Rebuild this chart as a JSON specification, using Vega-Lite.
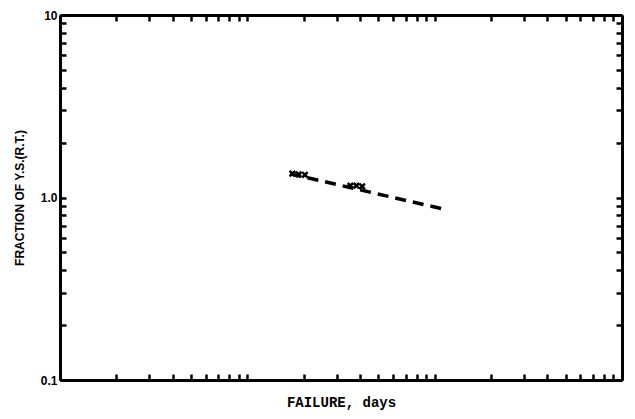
{
  "$schema": "https://vega.github.io/schema/vega-lite/v6.json",
  "autosize": {"type": "none"},
  "padding": {"left": 60, "top": 15, "right": 13, "bottom": 39},
  "width": 562,
  "height": 365,
  "background": "white",
  "config": {
    "view": {"stroke": null},
    "axis": {
      "domainColor": "black",
      "domainWidth": 3,
      "tickColor": "black",
      "tickWidth": 2.5,
      "tickOpacity": 1,
      "grid": false,
      "labelOverlap": false,
      "labelColor": "black",
      "titleColor": "black"
    }
  },
  "datasets": {
    "line": [
      {"days": 16.9, "fraction": 1.35},
      {"days": 111, "fraction": 0.865}
    ],
    "points": [
      {"days": 17.4, "fraction": 1.35},
      {"days": 18.8, "fraction": 1.34},
      {"days": 20.3, "fraction": 1.33},
      {"days": 35.5, "fraction": 1.16},
      {"days": 38.2, "fraction": 1.16},
      {"days": 41.0, "fraction": 1.15}
    ],
    "frame": [
      {"days": 1, "fraction": 0.1}
    ]
  },
  "layer": [
    {
      "data": {"name": "frame"},
      "mark": {"type": "point", "opacity": 0},
      "encoding": {
        "x": {
          "field": "days", "type": "quantitative",
          "scale": {"type": "log", "domain": [1, 1000], "nice": false},
          "axis": {
            "orient": "bottom",
            "title": "FAILURE, days",
            "titleFont": "Liberation Mono",
            "titleFontWeight": "bold",
            "titleFontSize": 14,
            "titlePadding": 14,
            "labels": false,
            "values": [1,2,3,4,5,6,7,8,9,10,20,30,40,50,60,70,80,90,100,200,300,400,500,600,700,800,900,1000],
            "tickSize": -6
          }
        },
        "y": {
          "field": "fraction", "type": "quantitative",
          "scale": {"type": "log", "domain": [0.1, 10], "nice": false},
          "axis": {
            "orient": "left",
            "title": "FRACTION OF Y.S.(R.T.)",
            "titleFont": "Liberation Sans",
            "titleFontWeight": "bold",
            "titleFontSize": 12,
            "titlePadding": 14,
            "labelFont": "Liberation Sans",
            "labelFontWeight": "bold",
            "labelFontSize": 12,
            "labelPadding": 9,
            "values": [0.1,0.2,0.3,0.4,0.5,0.6,0.7,0.8,0.9,1,2,3,4,5,6,7,8,9,10],
            "labelExpr": "datum.value == 10 ? '10' : (datum.value == 1 ? '1.0' : (datum.value == 0.1 ? '0.1' : ''))",
            "tickSize": -6
          }
        }
      }
    },
    {
      "data": {"name": "frame"},
      "mark": {"type": "point", "opacity": 0},
      "encoding": {
        "x": {
          "field": "days", "type": "quantitative",
          "axis": {
            "orient": "top",
            "title": null,
            "labels": false,
            "values": [1,2,3,4,5,6,7,8,9,10,20,30,40,50,60,70,80,90,100,200,300,400,500,600,700,800,900,1000],
            "tickSize": -6
          }
        },
        "y": {
          "field": "fraction", "type": "quantitative",
          "axis": {
            "orient": "right",
            "title": null,
            "labels": false,
            "values": [0.1,0.2,0.3,0.4,0.5,0.6,0.7,0.8,0.9,1,2,3,4,5,6,7,8,9,10],
            "tickSize": -6
          }
        }
      }
    },
    {
      "data": {"name": "line"},
      "mark": {"type": "line", "color": "black", "strokeWidth": 3.5, "strokeDash": [11, 7]},
      "encoding": {
        "x": {"field": "days", "type": "quantitative", "axis": null},
        "y": {"field": "fraction", "type": "quantitative", "axis": null}
      }
    },
    {
      "data": {"name": "points"},
      "mark": {"type": "point", "shape": "M-1,-1L1,1M-1,1L1,-1", "color": "black", "opacity": 1, "strokeWidth": 2.5, "size": 30, "filled": false},
      "encoding": {
        "x": {"field": "days", "type": "quantitative", "axis": null},
        "y": {"field": "fraction", "type": "quantitative", "axis": null}
      }
    }
  ],
  "resolve": {"axis": {"x": "independent", "y": "independent"}}
}
